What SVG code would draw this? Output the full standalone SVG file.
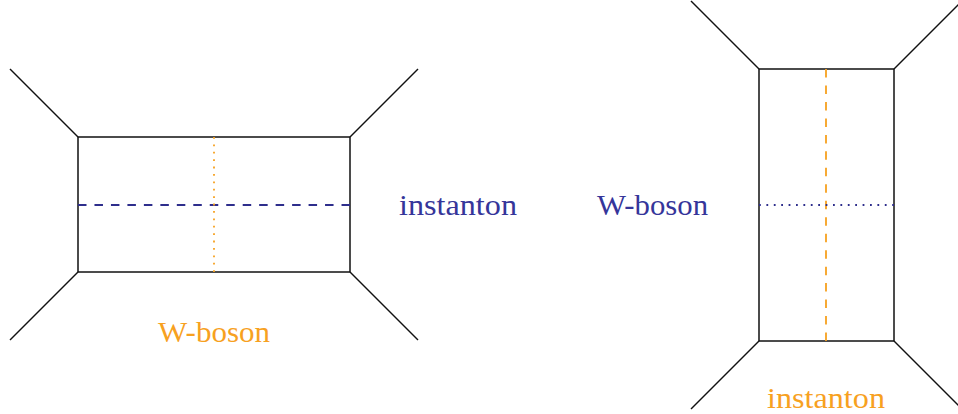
<svg xmlns="http://www.w3.org/2000/svg" width="958" height="414" viewBox="0 0 958 414">
<style>
.edge{stroke:#111;stroke-width:1.5;fill:none}
.blueDash{stroke:#2e2e8c;stroke-width:1.8;stroke-dasharray:8.5 7.97;fill:none}
.blueDot{stroke:#2e2e8c;stroke-width:1.8;stroke-dasharray:1.8 5.6;fill:none}
.orDash{stroke:#f7a11f;stroke-width:1.8;stroke-dasharray:8.5 7.97;fill:none}
.orDot{stroke:#f7a11f;stroke-width:1.8;stroke-dasharray:1.8 5.6;fill:none}
.lbl{font-family:"Liberation Serif","DejaVu Serif",serif;font-size:30px;text-anchor:middle}
.blue{fill:#35359a}
.orange{fill:#f7a11f}
</style>
<g id="diagram-left">
<rect class="edge" x="78" y="137" width="272" height="135"/>
<line class="blueDash" x1="78" y1="205" x2="350" y2="205"/>
<line class="orDot" x1="214" y1="137" x2="214" y2="272"/>
</g>
<g id="diagram-right">
<rect class="edge" x="759" y="69" width="135" height="272"/>
<line class="orDash" x1="826" y1="69" x2="826" y2="341"/>
<line class="blueDot" x1="759" y1="205" x2="894" y2="205"/>
</g>
<g id="connectors">
<line class="edge" x1="78" y1="137" x2="10" y2="69"/>
<line class="edge" x1="350" y1="137" x2="418" y2="69"/>
<line class="edge" x1="78" y1="272" x2="10" y2="340"/>
<line class="edge" x1="350" y1="272" x2="418" y2="340"/>
<line class="edge" x1="759" y1="69" x2="691" y2="1"/>
<line class="edge" x1="894" y1="69" x2="962" y2="1"/>
<line class="edge" x1="759" y1="341" x2="691" y2="409"/>
<line class="edge" x1="894" y1="341" x2="962" y2="409"/>
</g>
<g id="labels">
<text class="lbl blue" x="458" y="215" textLength="118" lengthAdjust="spacingAndGlyphs">instanton</text>
<text class="lbl blue" x="652.5" y="215" textLength="111" lengthAdjust="spacingAndGlyphs">W-boson</text>
<text class="lbl orange" x="214" y="342" textLength="112" lengthAdjust="spacingAndGlyphs">W-boson</text>
<text class="lbl orange" x="826" y="408" textLength="118" lengthAdjust="spacingAndGlyphs">instanton</text>
</g>
</svg>
